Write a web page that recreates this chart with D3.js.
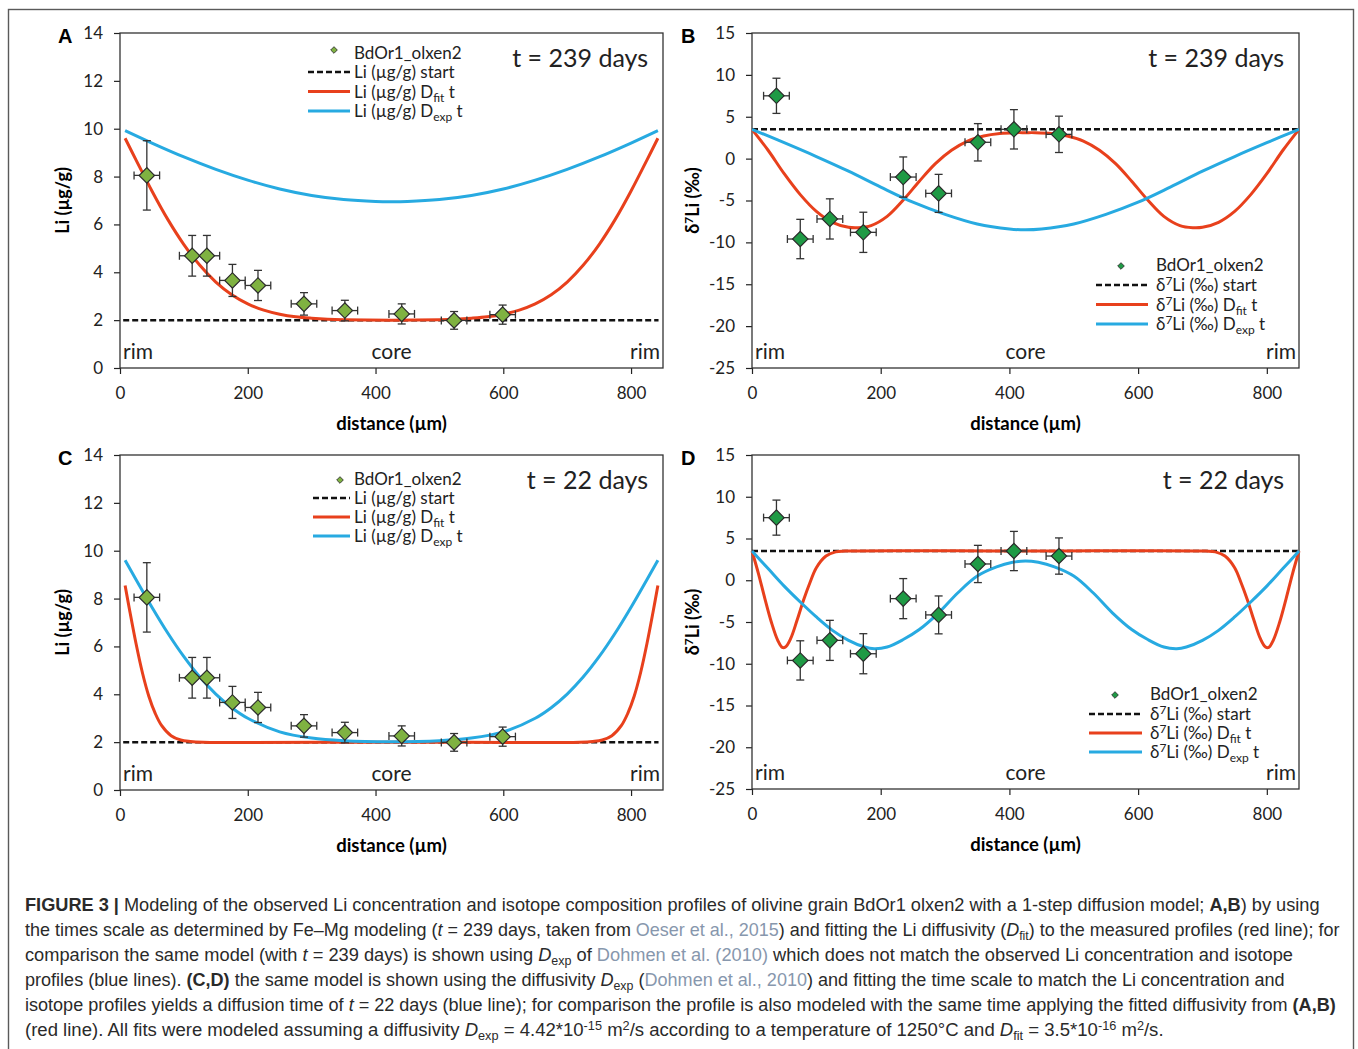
<!DOCTYPE html>
<html>
<head>
<meta charset="utf-8">
<script src="https://cdn.jsdelivr.net/npm/d3@7"></script>
<style>
  body { margin: 0; background: #fff; }
  svg { display: block; }
  text { white-space: pre; }
</style>
</head>
<body>
<svg></svg>
<script>
// ---- measured profile (both panels share the distance error) ----
var distErr = 20;

var liDist = [42, 113, 136, 176, 216, 288, 352, 441, 523, 599];
var liVal  = [8.05, 4.69, 4.69, 3.66, 3.45, 2.68, 2.40, 2.26, 1.99, 2.23];
var liErr  = [1.45, 0.85, 0.85, 0.67, 0.63, 0.47, 0.43, 0.42, 0.37, 0.40];

var dDist = [38, 75, 121, 173, 235, 290, 351, 407, 477];
var dVal  = [7.5, -9.6, -7.2, -8.8, -2.2, -4.15, 1.95, 3.5, 2.9];
var dErr  = [2.1, 2.35, 2.4, 2.4, 2.4, 2.27, 2.23, 2.35, 2.17];

// ---- start values ----
var liStart = 2.0;
var dStart = 3.5;

// ---- model curves, t = 239 days ----
var liFit239X = [8, 25, 50, 75, 100, 125, 150, 175, 200, 225, 250, 275, 300, 325, 350, 425, 500, 525, 550, 575, 600, 625, 650, 675, 700, 725, 750, 775, 800, 825, 842];
var liFit239Y = [9.6, 8.7, 7.4, 6.2, 5.16, 4.29, 3.59, 3.06, 2.68, 2.42, 2.25, 2.14, 2.08, 2.04, 2.02, 2.0, 2.02, 2.04, 2.08, 2.14, 2.25, 2.42, 2.68, 3.06, 3.59, 4.29, 5.16, 6.2, 7.4, 8.7, 9.6];
var liExp239X = [8, 50, 100, 150, 200, 250, 300, 350, 400, 425, 450, 500, 550, 600, 650, 700, 750, 800, 842];
var liExp239Y = [9.92, 9.40, 8.82, 8.30, 7.85, 7.48, 7.21, 7.04, 6.96, 6.95, 6.96, 7.04, 7.21, 7.48, 7.85, 8.30, 8.82, 9.40, 9.92];

var dFit239X = [0, 25, 50, 75, 100, 125, 150, 165, 185, 210, 235, 260, 285, 310, 335, 360, 385, 410, 425, 440, 465, 490, 515, 540, 565, 590, 615, 640, 665, 685, 700, 725, 750, 775, 800, 825, 850];
var dFit239Y = [3.5, 1.0, -1.8, -4.3, -6.3, -7.6, -8.2, -8.25, -8.0, -6.9, -4.95, -2.7, -0.6, 1.0, 2.1, 2.7, 3.0, 3.1, 3.1, 3.1, 3.0, 2.7, 2.1, 1.0, -0.6, -2.7, -4.95, -6.9, -8.0, -8.25, -8.2, -7.6, -6.3, -4.3, -1.8, 1.0, 3.5];
var dExp239X = [0, 50, 100, 150, 200, 250, 300, 350, 400, 425, 450, 500, 550, 600, 650, 700, 750, 800, 850];
var dExp239Y = [3.5, 1.9, 0.25, -1.5, -3.4, -5.2, -6.65, -7.8, -8.4, -8.5, -8.4, -7.8, -6.65, -5.2, -3.4, -1.5, 0.25, 1.9, 3.5];

// ---- model curves, t = 22 days ----
var liFit22X = [8, 15, 25, 35, 45, 55, 65, 80, 95, 110, 130, 425, 720, 740, 755, 770, 785, 795, 805, 815, 825, 835, 842];
var liFit22Y = [8.55, 7.52, 6.13, 4.91, 3.93, 3.21, 2.70, 2.27, 2.09, 2.03, 2.0, 2.0, 2.0, 2.03, 2.09, 2.27, 2.70, 3.21, 3.93, 4.91, 6.13, 7.52, 8.55];
var liExp22X = [8, 25, 50, 75, 100, 125, 150, 175, 200, 250, 300, 350, 425, 500, 550, 600, 650, 675, 700, 725, 750, 775, 800, 825, 842];
var liExp22Y = [9.6, 8.8, 7.64, 6.55, 5.57, 4.72, 4.01, 3.44, 3.0, 2.43, 2.17, 2.06, 2.02, 2.06, 2.17, 2.43, 3.0, 3.44, 4.01, 4.72, 5.57, 6.55, 7.64, 8.8, 9.6];

var dFit22X = [0, 10, 20, 30, 40, 47, 52, 60, 70, 80, 90, 100, 115, 130, 145, 425, 705, 720, 735, 750, 760, 770, 780, 790, 798, 803, 810, 820, 830, 840, 850];
var dFit22Y = [3.5, 0.8, -2.2, -5.0, -7.2, -8.05, -8.0, -7.0, -4.8, -2.4, -0.3, 1.5, 2.9, 3.4, 3.5, 3.5, 3.5, 3.4, 2.9, 1.5, -0.3, -2.4, -4.8, -7.0, -8.0, -8.05, -7.2, -5.0, -2.2, 0.8, 3.5];
var dExp22X = [0, 25, 50, 75, 100, 125, 150, 175, 190, 210, 235, 260, 290, 320, 350, 380, 405, 425, 445, 470, 500, 530, 560, 590, 615, 640, 660, 675, 700, 725, 750, 775, 800, 825, 850];
var dExp22Y = [3.5, 1.4, -0.7, -2.6, -4.4, -6.0, -7.2, -8.0, -8.2, -8.0, -7.1, -5.9, -3.9, -1.5, 0.5, 1.6, 2.15, 2.32, 2.15, 1.6, 0.5, -1.5, -3.9, -5.9, -7.1, -8.0, -8.2, -8.0, -7.2, -6.0, -4.4, -2.6, -0.7, 1.4, 3.5];

// ---- axes ----
var xDomain = [0, 850];
var xTicks = [0, 200, 400, 600, 800];
var liDomain = [0, 14];
var liTicks = [0, 2, 4, 6, 8, 10, 12, 14];
var dDomain = [-25, 15];
var dTicks = [-25, -20, -15, -10, -5, 0, 5, 10, 15];

var seriesName = "BdOr1_olxen2";

var red = "#e8401c";
var blue = "#27aae1";
var chartFont = "Lato, 'Open Sans', sans-serif";

var svg = d3.select("svg").attr("width", 1358).attr("height", 1049);

// outer frame of the figure
svg.append("rect")
  .attr("x", 8.5).attr("y", 9.5)
  .attr("width", 1345).attr("height", 1100)
  .attr("fill", "none")
  .attr("stroke", "#5a5a5a")
  .attr("stroke-width", 1.4);

// writes text made of parts: plain, sub, sup
function richText(sel, parts, small) {
  var shift = 0;
  parts.forEach(function(p) {
    var ts = sel.append("tspan").text(p.t);
    var want = p.sub ? 4 : (p.sup ? -6 : 0);
    if (want != shift) {
      ts.attr("dy", want - shift);
      shift = want;
    }
    if (p.sub || p.sup) ts.attr("font-size", small);
    if (p.b) ts.attr("font-weight", "bold");
    if (p.i) ts.attr("font-style", "italic");
    if (p.fill) ts.attr("fill", p.fill);
  });
}

function drawPanel(p) {
  var x = d3.scaleLinear().domain(xDomain).range([p.left, p.right]);
  var y = d3.scaleLinear().domain(p.yDomain).range([p.bottom, p.top]);
  var g = svg.append("g").style("font-family", chartFont);
  var plain = function(d) { return String(d); };

  // axes
  var ax = g.append("g")
    .attr("transform", "translate(" + p.left + ",0)")
    .call(d3.axisLeft(y).tickValues(p.yTicks).tickFormat(plain).tickSize(6).tickSizeOuter(0).tickPadding(11));
  var bx = g.append("g")
    .attr("transform", "translate(0," + p.bottom + ")")
    .call(d3.axisBottom(x).tickValues(xTicks).tickFormat(plain).tickSize(6).tickSizeOuter(0).tickPadding(13));
  [ax, bx].forEach(function(a) {
    a.select(".domain").remove();
    a.selectAll("line").attr("stroke", "#222").attr("stroke-width", 1.2);
    a.selectAll("text").attr("font-family", chartFont).attr("font-size", 17).attr("fill", "#222");
  });

  // frame
  g.append("rect")
    .attr("x", p.left).attr("y", p.top)
    .attr("width", p.right - p.left).attr("height", p.bottom - p.top)
    .attr("fill", "none")
    .attr("stroke", "#333")
    .attr("stroke-width", 1.3);

  // panel letter
  g.append("text")
    .attr("x", p.letterX).attr("y", p.top + 10)
    .attr("font-family", "'Liberation Sans', Arial, sans-serif")
    .attr("font-weight", "bold").attr("font-size", 20)
    .text(p.letter);

  // axis titles
  var yt = g.append("text")
    .attr("transform", "translate(" + p.titleX + "," + ((p.top + p.bottom) / 2) + ") rotate(-90)")
    .attr("text-anchor", "middle")
    .attr("font-weight", "bold").attr("font-size", 18);
  richText(yt, p.yTitle, 12);
  g.append("text")
    .attr("x", (p.left + p.right) / 2).attr("y", p.bottom + 62)
    .attr("text-anchor", "middle")
    .attr("font-weight", "bold").attr("font-size", 18.5)
    .text("distance (µm)");

  // rim / core labels
  var lab = g.append("g").attr("font-size", 21).attr("fill", "#222");
  lab.append("text").attr("x", p.left + 3).attr("y", p.bottom - 9).text("rim");
  lab.append("text").attr("x", x(425)).attr("y", p.bottom - 9).attr("text-anchor", "middle").text("core");
  lab.append("text").attr("x", p.right - 3).attr("y", p.bottom - 9).attr("text-anchor", "end").text("rim");

  // duration
  g.append("text")
    .attr("x", p.right - 15).attr("y", p.top + 34)
    .attr("text-anchor", "end").attr("font-size", 25).attr("fill", "#222")
    .text(p.days);

  // start value
  g.append("line")
    .attr("x1", x(p.startX[0])).attr("x2", x(p.startX[1]))
    .attr("y1", y(p.start)).attr("y2", y(p.start))
    .attr("stroke", "#111").attr("stroke-width", 2.5)
    .attr("stroke-dasharray", "6,3");

  // model curves
  var line = d3.line()
    .x(function(d) { return x(d[0]); })
    .y(function(d) { return y(d[1]); })
    .curve(d3.curveCatmullRom.alpha(0.5));
  [[p.fitX, p.fitY, red], [p.expX, p.expY, blue]].forEach(function(c) {
    g.append("path")
      .datum(d3.zip(c[0], c[1]))
      .attr("d", line)
      .attr("fill", "none")
      .attr("stroke", c[2])
      .attr("stroke-width", 3);
  });

  // measured points with error bars
  var pts = d3.range(p.px.length).map(function(i) {
    return { x: p.px[i], y: p.py[i], e: p.pe[i] };
  });
  var eb = g.append("g").attr("stroke", "#333").attr("stroke-width", 1.3);
  pts.forEach(function(d) {
    var cx = x(d.x), cy = y(d.y);
    var y1 = y(d.y + d.e), y2 = y(d.y - d.e);
    var x1 = x(d.x - distErr), x2 = x(d.x + distErr);
    eb.append("line").attr("x1", cx).attr("x2", cx).attr("y1", y1).attr("y2", y2);
    eb.append("line").attr("x1", cx - 4).attr("x2", cx + 4).attr("y1", y1).attr("y2", y1);
    eb.append("line").attr("x1", cx - 4).attr("x2", cx + 4).attr("y1", y2).attr("y2", y2);
    eb.append("line").attr("x1", x1).attr("x2", x2).attr("y1", cy).attr("y2", cy);
    eb.append("line").attr("x1", x1).attr("x2", x1).attr("y1", cy - 4).attr("y2", cy + 4);
    eb.append("line").attr("x1", x2).attr("x2", x2).attr("y1", cy - 4).attr("y2", cy + 4);
  });
  var diamond = d3.symbol().type(d3.symbolSquare).size(118);
  g.append("g").selectAll("path")
    .data(pts)
    .enter()
    .append("path")
    .attr("d", diamond)
    .attr("transform", function(d) {
      return "translate(" + x(d.x) + "," + y(d.y) + ") rotate(45)";
    })
    .attr("fill", p.marker)
    .attr("stroke", "#2b2b2b")
    .attr("stroke-width", 1.2);

  // legend
  var L = p.legend;
  var lg = g.append("g").attr("font-size", 17).attr("fill", "#222");
  lg.append("path")
    .attr("d", d3.symbol().type(d3.symbolSquare).size(22))
    .attr("transform", "translate(" + L.mx + "," + L.my + ") rotate(45)")
    .attr("fill", p.marker).attr("stroke", "#2b2b2b").attr("stroke-width", 0.8);
  lg.append("text").attr("x", L.tx).attr("y", L.ty).text(seriesName);
  var rows = [
    { dash: "6,3", color: "#111", parts: p.legendLabel.concat([{ t: " start" }]) },
    { dash: null, color: red, parts: p.legendLabel.concat([{ t: " D" }, { t: "fit", sub: true }, { t: " t" }]) },
    { dash: null, color: blue, parts: p.legendLabel.concat([{ t: " D" }, { t: "exp", sub: true }, { t: " t" }]) }
  ];
  rows.forEach(function(r, i) {
    var ry = L.ry + i * L.dy;
    lg.append("line")
      .attr("x1", L.lx0).attr("x2", L.lx1)
      .attr("y1", ry).attr("y2", ry)
      .attr("stroke", r.color).attr("stroke-width", r.dash ? 2.5 : 3)
      .attr("stroke-dasharray", r.dash);
    var t = lg.append("text").attr("x", L.tx).attr("y", ry + 6);
    richText(t, r.parts, 12);
  });
}

var liTitle = [{ t: "Li (µg/g)" }];
var dTitle = [{ t: "δ" }, { t: "7", sup: true }, { t: "Li (‰)" }];
var liLegend = [{ t: "Li (µg/g)" }];
var dLegend = [{ t: "δ" }, { t: "7", sup: true }, { t: "Li (‰)" }];

drawPanel({
  letter: "A", letterX: 58, titleX: 69, left: 120, right: 663, top: 33, bottom: 368,
  yDomain: liDomain, yTicks: liTicks, yTitle: liTitle, days: "t = 239 days",
  start: liStart, startX: [5, 843],
  fitX: liFit239X, fitY: liFit239Y, expX: liExp239X, expY: liExp239Y,
  px: liDist, py: liVal, pe: liErr, marker: "#7fb241",
  legendLabel: liLegend,
  legend: { mx: 334, my: 50, tx: 354, ty: 59, lx0: 308, lx1: 350, ry: 72, dy: 19.5 }
});
drawPanel({
  letter: "B", letterX: 681, titleX: 699, left: 752, right: 1299, top: 33, bottom: 368,
  yDomain: dDomain, yTicks: dTicks, yTitle: dTitle, days: "t = 239 days",
  start: dStart, startX: [0, 850],
  fitX: dFit239X, fitY: dFit239Y, expX: dExp239X, expY: dExp239Y,
  px: dDist, py: dVal, pe: dErr, marker: "#1f9a45",
  legendLabel: dLegend,
  legend: { mx: 1121, my: 266, tx: 1156, ty: 271, lx0: 1096, lx1: 1148, ry: 285, dy: 19.5 }
});
drawPanel({
  letter: "C", letterX: 58, titleX: 69, left: 120, right: 663, top: 455, bottom: 790,
  yDomain: liDomain, yTicks: liTicks, yTitle: liTitle, days: "t = 22 days",
  start: liStart, startX: [5, 843],
  fitX: liFit22X, fitY: liFit22Y, expX: liExp22X, expY: liExp22Y,
  px: liDist, py: liVal, pe: liErr, marker: "#7fb241",
  legendLabel: liLegend,
  legend: { mx: 340, my: 480, tx: 354, ty: 485, lx0: 313, lx1: 350, ry: 498, dy: 19 }
});
drawPanel({
  letter: "D", letterX: 681, titleX: 699, left: 752, right: 1299, top: 455, bottom: 789,
  yDomain: dDomain, yTicks: dTicks, yTitle: dTitle, days: "t = 22 days",
  start: dStart, startX: [0, 850],
  fitX: dFit22X, fitY: dFit22Y, expX: dExp22X, expY: dExp22Y,
  px: dDist, py: dVal, pe: dErr, marker: "#1f9a45",
  legendLabel: dLegend,
  legend: { mx: 1115, my: 695, tx: 1150, ty: 700, lx0: 1089, lx1: 1142, ry: 714, dy: 19 }
});

// ---- caption ----
var link = "#8797ad";
var captionLines = [
  [{ t: "FIGURE 3 |", b: true }, { t: " Modeling of the observed Li concentration and isotope composition profiles of olivine grain BdOr1 olxen2 with a 1-step diffusion model; " }, { t: "A,B", b: true }, { t: ") by using" }],
  [{ t: "the times scale as determined by Fe–Mg modeling (" }, { t: "t", i: true }, { t: " = 239 days, taken from " }, { t: "Oeser et al., 2015", fill: link }, { t: ") and fitting the Li diffusivity (" }, { t: "D", i: true }, { t: "fit", sub: true }, { t: ") to the measured profiles (red line); for" }],
  [{ t: "comparison the same model (with " }, { t: "t", i: true }, { t: " = 239 days) is shown using " }, { t: "D", i: true }, { t: "exp", sub: true }, { t: " of " }, { t: "Dohmen et al. (2010)", fill: link }, { t: " which does not match the observed Li concentration and isotope" }],
  [{ t: "profiles (blue lines). " }, { t: "(C,D)", b: true }, { t: " the same model is shown using the diffusivity " }, { t: "D", i: true }, { t: "exp", sub: true }, { t: " (" }, { t: "Dohmen et al., 2010", fill: link }, { t: ") and fitting the time scale to match the Li concentration and" }],
  [{ t: "isotope profiles yields a diffusion time of " }, { t: "t", i: true }, { t: " = 22 days (blue line); for comparison the profile is also modeled with the same time applying the fitted diffusivity from " }, { t: "(A,B)", b: true }],
  [{ t: "(red line). All fits were modeled assuming a diffusivity " }, { t: "D", i: true }, { t: "exp", sub: true }, { t: " = 4.42*10" }, { t: "-15", sup: true }, { t: " m" }, { t: "2", sup: true }, { t: "/s according to a temperature of 1250°C and " }, { t: "D", i: true }, { t: "fit", sub: true }, { t: " = 3.5*10" }, { t: "-16", sup: true }, { t: " m" }, { t: "2", sup: true }, { t: "/s." }]
];
var captionEnds = [1321, 1340, 1294, 1286, 1337, 1165];

var cap = svg.append("g")
  .style("font-family", "'Liberation Sans', Arial, sans-serif")
  .attr("font-size", 17.5)
  .attr("fill", "#2a2a2a");
captionLines.forEach(function(parts, i) {
  var t = cap.append("text").attr("x", 0).attr("y", 0);
  richText(t, parts, 12);
  var w = t.node().getBBox().width;
  var s = (captionEnds[i] - 25) / w;
  t.attr("transform", "translate(25," + (911 + i * 25) + ") scale(" + s + ",1)");
});
</script>
</body>
</html>
